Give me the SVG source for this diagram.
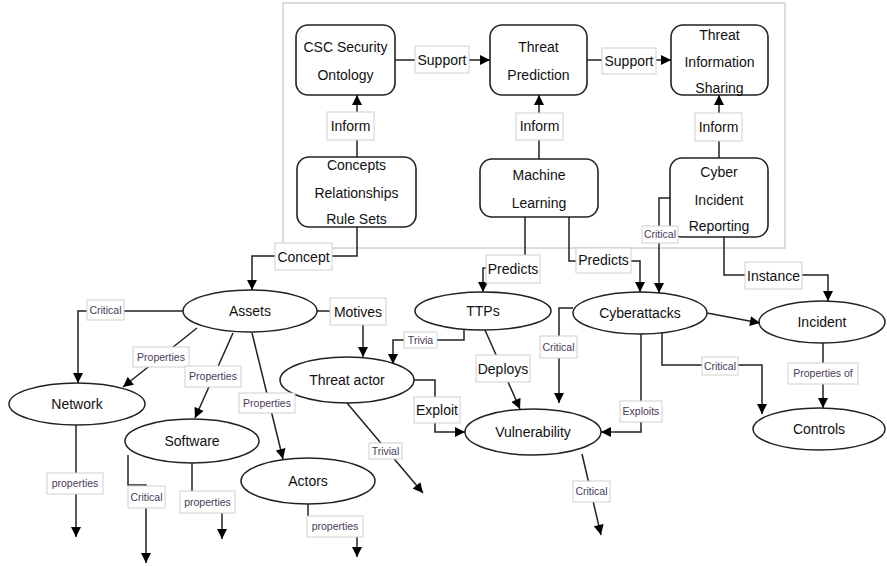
<svg xmlns="http://www.w3.org/2000/svg" width="887" height="566" viewBox="0 0 887 566">
<defs>
<marker id="ah" viewBox="0 0 10 10" refX="10" refY="5" markerWidth="11" markerHeight="10" markerUnits="userSpaceOnUse" orient="auto"><path d="M0,0 L10,5 L0,10 z" fill="#000"/></marker>
<style>
.box{fill:#fff;stroke:#222;stroke-width:1.6}
.ell{fill:#fff;stroke:#222;stroke-width:1.5}
.t{font-family:"Liberation Sans",Arial,sans-serif;font-size:14px;fill:#111;text-anchor:middle}
.c{fill:none;stroke:#222;stroke-width:1.5;marker-end:url(#ah)}
.lb{fill:#fff;stroke:#d0d0d0;stroke-width:1}
.lt{font-family:"Liberation Sans",Arial,sans-serif;font-size:14px;fill:#111;text-anchor:middle}
.ls{font-family:"Liberation Sans",Arial,sans-serif;font-size:10.5px;fill:#4a3a5a;text-anchor:middle}
</style>
</defs>
<rect width="887" height="566" fill="#fff"/>
<rect x="283" y="3" width="502" height="245" fill="none" stroke="#d0d0d0" stroke-width="1.5"/>

<g id="csc"><rect class="box" x="296" y="25" width="99" height="70" rx="12"/><text class="t" x="345.5" y="52">CSC Security</text><text class="t" x="345.5" y="80">Ontology</text></g>
<g id="threat-prediction"><rect class="box" x="490" y="25" width="97" height="70" rx="12"/><text class="t" x="538.5" y="52">Threat</text><text class="t" x="538.5" y="80">Prediction</text></g>
<g id="threat-info-sharing"><rect class="box" x="671" y="25" width="97" height="70" rx="12"/><text class="t" x="719.5" y="40">Threat</text><text class="t" x="719.5" y="67">Information</text><text class="t" x="719.5" y="93">Sharing</text></g>
<g id="concepts"><rect class="box" x="297" y="157" width="119" height="70" rx="12"/><text class="t" x="356.5" y="170">Concepts</text><text class="t" x="356.5" y="198">Relationships</text><text class="t" x="356.5" y="224">Rule Sets</text></g>
<g id="machine-learning"><rect class="box" x="480" y="159" width="118" height="58" rx="12"/><text class="t" x="539" y="180">Machine</text><text class="t" x="539" y="208">Learning</text></g>
<g id="cyber-incident-reporting"><rect class="box" x="670" y="158" width="98" height="79" rx="12"/><text class="t" x="719" y="177">Cyber</text><text class="t" x="719" y="205">Incident</text><text class="t" x="719" y="231">Reporting</text></g>

<g id="assets"><ellipse class="ell" cx="250" cy="311" rx="67" ry="21"/><text class="t" x="250" y="316">Assets</text></g>
<g id="network"><ellipse class="ell" cx="77" cy="404" rx="68" ry="21"/><text class="t" x="77" y="409">Network</text></g>
<g id="software"><ellipse class="ell" cx="192" cy="441" rx="67" ry="22"/><text class="t" x="192" y="446">Software</text></g>
<g id="actors"><ellipse class="ell" cx="308" cy="481" rx="67" ry="23"/><text class="t" x="308" y="486">Actors</text></g>
<g id="threat-actor"><ellipse class="ell" cx="347" cy="380" rx="67" ry="23"/><text class="t" x="347" y="385">Threat actor</text></g>
<g id="ttps"><ellipse class="ell" cx="483" cy="311" rx="68" ry="19"/><text class="t" x="483" y="316">TTPs</text></g>
<g id="cyberattacks"><ellipse class="ell" cx="640" cy="313" rx="67" ry="21"/><text class="t" x="640" y="318">Cyberattacks</text></g>
<g id="vulnerability"><ellipse class="ell" cx="533" cy="432" rx="68" ry="23"/><text class="t" x="533" y="437">Vulnerability</text></g>
<g id="incident"><ellipse class="ell" cx="822" cy="322" rx="63" ry="21"/><text class="t" x="822" y="327">Incident</text></g>
<g id="controls"><ellipse class="ell" cx="819" cy="429" rx="66" ry="21"/><text class="t" x="819" y="434">Controls</text></g>

<g id="connectors">
<path class="c" d="M395,60 H490"/>
<path class="c" d="M587,60 H671"/>
<path class="c" d="M357,157 V95"/>
<path class="c" d="M539,159 V95"/>
<path class="c" d="M719,158 V95"/>
<path class="c" d="M357,227 V256 H252 V290"/>
<path class="c" d="M525,217 V268 H483 V292"/>
<path class="c" d="M569,217 V261 H640 V292"/>
<path class="c" d="M670,198 H659 V293"/>
<path class="c" d="M724,237 V275 H828 V301"/>
<path class="c" d="M707,313 L760,323"/>
<path class="c" d="M823,343 V408"/>
<path class="c" d="M662,333 V365 H762 V414"/>
<path class="c" d="M641,334 V432 H601"/>
<path class="c" d="M573,308 H559 V403"/>
<path class="c" d="M485,330 L520,409"/>
<path class="c" d="M464,329 V340 H393 V364"/>
<path class="c" d="M414,380 H435 V432 H465"/>
<path class="c" d="M347,403 L423,493"/>
<path class="c" d="M582,454 L601,535"/>
<path class="c" d="M317,311 H363 V357"/>
<path class="c" d="M183,311 H78 V383"/>
<path class="c" d="M197,328 L123,387"/>
<path class="c" d="M233,333 L195,418"/>
<path class="c" d="M252,333 L283,459"/>
<path class="c" d="M76,425 V537"/>
<path class="c" d="M128,455 V485 H146 V563"/>
<path class="c" d="M192,463 V502 H222 V539"/>
<path class="c" d="M308,504 V526 H357 V557"/>

<g><rect class="lb" x="415" y="46" width="54" height="27"/><text class="lt" x="442" y="65">Support</text></g>
<g><rect class="lb" x="602" y="48" width="54" height="26"/><text class="lt" x="629" y="66">Support</text></g>
<g><rect class="lb" x="327" y="112" width="47" height="28"/><text class="lt" x="350.5" y="131">Inform</text></g>
<g><rect class="lb" x="516" y="113" width="47" height="27"/><text class="lt" x="539.5" y="131">Inform</text></g>
<g><rect class="lb" x="695" y="113" width="47" height="28"/><text class="lt" x="718.5" y="132">Inform</text></g>
<g><rect class="lb" x="275" y="243" width="57" height="27"/><text class="lt" x="303.5" y="262">Concept</text></g>
<g><rect class="lb" x="486" y="255" width="54" height="28"/><text class="lt" x="513" y="274">Predicts</text></g>
<g><rect class="lb" x="576" y="248" width="55" height="25"/><text class="lt" x="603.5" y="265">Predicts</text></g>
<g><rect class="lb" x="642" y="226" width="36" height="17"/><text class="ls" x="660" y="238">Critical</text></g>
<g><rect class="lb" x="745" y="262" width="57" height="27"/><text class="lt" x="773.5" y="281">Instance</text></g>
<g><rect class="lb" x="788" y="363" width="70" height="21"/><text class="ls" x="823" y="377">Properties of</text></g>
<g><rect class="lb" x="702" y="357" width="36" height="18"/><text class="ls" x="720" y="370">Critical</text></g>
<g><rect class="lb" x="620" y="401" width="42" height="21"/><text class="ls" x="641" y="415">Exploits</text></g>
<g><rect class="lb" x="540" y="336" width="37" height="22"/><text class="ls" x="558.5" y="351">Critical</text></g>
<g><rect class="lb" x="476" y="355" width="54" height="27"/><text class="lt" x="503" y="374">Deploys</text></g>
<g><rect class="lb" x="404" y="332" width="33" height="16"/><text class="ls" x="420.5" y="344">Trivia</text></g>
<g><rect class="lb" x="414" y="397" width="46" height="26"/><text class="lt" x="437" y="415">Exploit</text></g>
<g><rect class="lb" x="369" y="443" width="33" height="16"/><text class="ls" x="385.5" y="455">Trivial</text></g>
<g><rect class="lb" x="573" y="481" width="37" height="21"/><text class="ls" x="591.5" y="495">Critical</text></g>
<g><rect class="lb" x="330" y="298" width="56" height="27"/><text class="lt" x="358" y="317">Motives</text></g>
<g><rect class="lb" x="87" y="300" width="37" height="20"/><text class="ls" x="105.5" y="314">Critical</text></g>
<g><rect class="lb" x="133" y="347" width="56" height="20"/><text class="ls" x="161" y="361">Properties</text></g>
<g><rect class="lb" x="185" y="366" width="56" height="21"/><text class="ls" x="213" y="380">Properties</text></g>
<g><rect class="lb" x="239" y="393" width="56" height="20"/><text class="ls" x="267" y="407">Properties</text></g>
<g><rect class="lb" x="47" y="473" width="56" height="21"/><text class="ls" x="75" y="487">properties</text></g>
<g><rect class="lb" x="128" y="486" width="37" height="22"/><text class="ls" x="146.5" y="501">Critical</text></g>
<g><rect class="lb" x="180" y="491" width="55" height="22"/><text class="ls" x="207.5" y="506">properties</text></g>
<g><rect class="lb" x="307" y="516" width="56" height="21"/><text class="ls" x="335" y="530">properties</text></g>
</g>
</svg>
